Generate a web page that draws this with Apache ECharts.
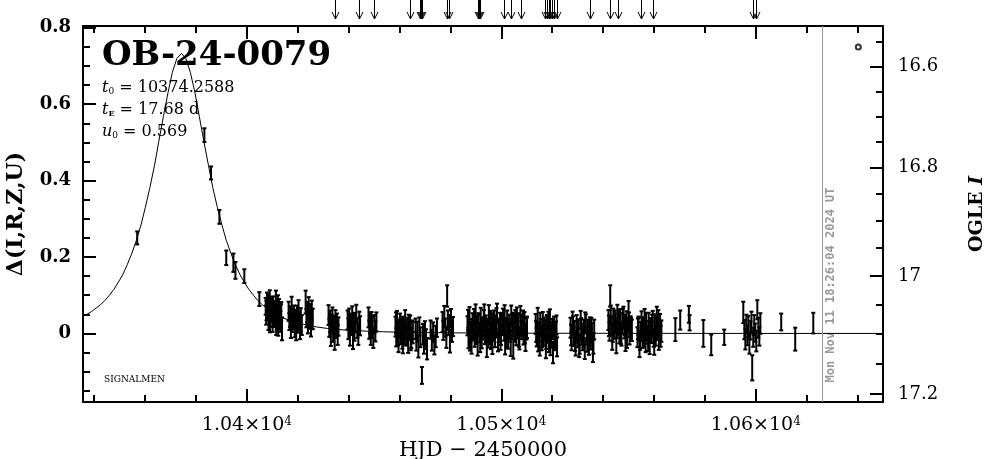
<!DOCTYPE html>
<html><head><meta charset="utf-8">
<script src="https://cdn.jsdelivr.net/npm/echarts@6/dist/echarts.min.js"></script>
<style>html,body{margin:0;padding:0;background:#fff}#c{width:986px;height:459px}</style>
</head><body><div id="c"></div>
<script>
// ---------- axis ticks ----------
const xMajor = [10400, 10500, 10600];
const xMinor = [10340,10360,10380,10420,10440,10460,10480,10520,10540,10560,10580,10620,10640];
const yMajor = [0, 0.2, 0.4, 0.6, 0.8];
const yMinor = [-0.15,-0.1,-0.05,0.05,0.1,0.15,0.25,0.3,0.35,0.45,0.5,0.55,0.65,0.7,0.75];
const magMajor = [16.6, 16.8, 17, 17.2];
const magMinor = [16.55,16.65,16.7,16.75,16.85,16.9,16.95,17.05,17.1,17.15];
const I_BASE = 17.1, F_SRC = 0.648;   // baseline OGLE I and source flux fraction
const X_MIN = 10335.6, X_MAX = 10650, Y_MIN = -0.1795, Y_MAX = 0.8047;
const NOW_HJD = 10626.27;

// ---------- model curve ----------
const modelT = [10335.6,10337.1,10338.9,10340.7,10342.4,10344.2,10346.0,10347.7,10349.5,10351.3,10353.0,10354.8,10356.6,10358.4,10360.1,10361.9,10363.7,10365.4,10367.2,10369.0,10370.7,10372.5,10374.3,10376.0,10377.8,10379.6,10381.3,10383.1,10384.9,10386.6,10388.4,10390.2,10391.9,10393.7,10395.5,10397.2,10399.0,10400.8,10402.6,10404.3,10406.1,10407.9,10409.6,10411.4,10414.0,10418.5,10422.9,10427.3,10431.7,10436.1,10445.0,10453.8,10462.7,10480.3,10498.0,10515.7,10551.1,10600.0,10650.0];
const modelD = [0.045,0.050,0.057,0.066,0.075,0.086,0.100,0.115,0.134,0.155,0.180,0.210,0.244,0.284,0.330,0.382,0.440,0.503,0.568,0.630,0.683,0.720,0.733,0.720,0.683,0.630,0.568,0.503,0.440,0.382,0.330,0.284,0.244,0.210,0.180,0.155,0.134,0.115,0.100,0.086,0.075,0.066,0.057,0.050,0.041,0.030,0.023,0.017,0.013,0.010,0.0065,0.0043,0.0029,0.0015,0.0009,0.0005,0.0002,0.0,0.0];

// ---------- observations [HJD, delta, err] ----------
const obsRise = [[10356.9,0.250,0.017],[10383.3,0.519,0.018],[10385.9,0.420,0.017],[10389.2,0.305,0.018],[10391.9,0.198,0.019],[10394.7,0.185,0.024],[10395.5,0.165,0.022],[10399.0,0.150,0.018],[10404.9,0.090,0.018]];
const obsC1 = [[10407.4,0.071,0.022],[10407.6,0.048,0.025],[10407.7,0.060,0.026],[10407.9,0.083,0.024],[10408.2,0.062,0.021],[10408.4,0.078,0.024],[10408.5,0.035,0.026],[10408.7,0.058,0.023],[10409.0,0.091,0.022],[10409.1,0.030,0.027],[10409.3,0.044,0.027],[10409.5,0.067,0.024],[10409.8,0.052,0.021],[10409.9,0.070,0.025],[10410.1,0.029,0.025],[10410.3,0.074,0.023],[10410.6,0.056,0.026],[10410.7,0.046,0.026],[10410.9,0.041,0.024],[10411.2,0.063,0.022],[10411.4,0.087,0.025],[10411.5,0.024,0.028],[10411.7,0.038,0.028],[10412.0,0.052,0.023],[10412.2,0.075,0.025],[10412.3,0.020,0.026],[10412.6,0.066,0.024],[10412.8,0.038,0.027],[10412.9,0.045,0.021],[10413.2,0.031,0.027],[10413.4,0.050,0.026],[10413.5,0.057,0.025],[10413.8,0.012,0.030]];
const obsC2 = [[10416.4,0.058,0.025],[10416.7,0.031,0.022],[10417.0,0.044,0.027],[10417.3,0.012,0.024],[10417.6,0.066,0.030],[10417.9,0.027,0.023],[10418.2,0.039,0.026],[10418.5,0.051,0.022],[10418.8,0.018,0.028],[10419.1,0.037,0.025],[10419.4,0.006,0.024],[10419.7,0.047,0.026],[10420.0,0.025,0.023],[10420.3,0.060,0.027],[10420.6,0.033,0.025],[10420.9,0.014,0.029],[10421.2,0.042,0.024],[10421.6,0.022,0.026]];
const obsC3 = [[10423.1,0.082,0.030],[10423.4,0.040,0.024],[10423.7,0.056,0.026],[10424.0,0.025,0.025],[10424.3,0.068,0.027],[10424.6,0.035,0.023],[10424.9,0.049,0.028],[10425.2,0.018,0.026],[10425.5,0.061,0.025],[10425.9,0.038,0.027]];
const obsC4 = [[10432.1,0.048,0.026],[10432.4,0.015,0.024],[10432.7,0.032,0.028],[10433.0,-0.008,0.025],[10433.3,0.027,0.023],[10433.6,0.041,0.027],[10433.9,0.004,0.026],[10434.2,0.022,0.024],[10434.5,-0.015,0.028],[10434.8,0.036,0.025],[10435.1,0.011,0.023],[10435.4,0.025,0.027],[10435.7,-0.004,0.026],[10436.0,0.018,0.024]];
const obsC5 = [[10439.6,0.035,0.025],[10439.9,0.012,0.027],[10440.2,0.041,0.024],[10440.5,-0.006,0.026],[10440.8,0.024,0.028],[10441.1,0.019,0.023],[10441.4,0.046,0.025],[10441.7,-0.012,0.029],[10442.0,0.030,0.024],[10442.3,0.008,0.027],[10442.6,0.028,0.025],[10443.0,0.052,0.023],[10443.4,0.014,0.026],[10443.8,-0.002,0.028],[10444.2,0.033,0.024],[10444.5,0.020,0.025]];
const obsC6 = [[10447.8,0.042,0.026],[10448.1,0.010,0.024],[10448.4,0.027,0.027],[10448.7,-0.005,0.025],[10449.0,0.033,0.023],[10449.3,0.016,0.028],[10449.7,-0.012,0.026],[10450.1,0.024,0.024],[10450.5,0.006,0.027],[10450.9,0.030,0.025]];
const obsC7 = [[10458.4,0.018,0.026],[10458.6,0.028,0.027],[10458.7,-0.010,0.024],[10459.0,0.032,0.027],[10459.3,0.004,0.025],[10459.5,-0.006,0.025],[10459.6,-0.021,0.028],[10459.9,0.012,0.023],[10460.2,0.026,0.026],[10460.4,0.014,0.026],[10460.5,-0.004,0.024],[10460.8,0.008,0.027],[10461.1,-0.015,0.025],[10461.3,-0.024,0.028],[10461.4,0.021,0.023],[10461.8,0.000,0.028],[10462.0,0.010,0.025],[10462.2,0.035,0.026],[10462.6,-0.008,0.024],[10462.9,-0.002,0.027],[10463.0,0.014,0.027],[10463.4,-0.026,0.025],[10463.6,0.024,0.025],[10463.8,0.006,0.023],[10464.2,0.019,0.028],[10464.4,-0.018,0.026],[10464.6,-0.012,0.026],[10465.0,0.010,0.024],[10465.2,0.002,0.028]];
const obsC8 = [[10466.3,0.012,0.027],[10466.6,-0.020,0.025],[10467.0,0.005,0.026],[10467.4,-0.035,0.028],[10467.8,0.018,0.024],[10468.2,-0.010,0.026],[10468.8,-0.110,0.022],[10469.2,-0.002,0.027],[10469.6,-0.028,0.025],[10470.0,0.008,0.024],[10470.4,-0.015,0.026],[10470.8,-0.040,0.028]];
const obsC9 = [[10472.2,0.010,0.024],[10472.7,-0.018,0.027],[10473.2,0.003,0.026],[10473.7,-0.030,0.025],[10474.2,-0.008,0.028],[10474.7,0.015,0.024]];
const obsC10 = [[10476.9,0.030,0.026],[10477.2,0.008,0.025],[10477.6,0.045,0.027],[10478.0,0.015,0.024],[10478.4,-0.010,0.028],[10478.7,0.098,0.028],[10479.0,0.035,0.025],[10479.4,0.022,0.026],[10479.8,-0.020,0.030],[10480.2,0.040,0.024],[10480.6,0.005,0.027],[10481.0,0.018,0.025]];
const obsC11 = [[10486.7,0.020,0.025],[10486.9,0.035,0.027],[10487.1,-0.012,0.027],[10487.5,0.045,0.024],[10487.7,-0.020,0.025],[10487.9,0.005,0.026],[10488.3,-0.025,0.028],[10488.5,0.010,0.028],[10488.7,0.030,0.023],[10489.1,0.012,0.025],[10489.3,0.040,0.024],[10489.5,-0.008,0.027],[10489.9,0.052,0.024],[10490.1,-0.002,0.026],[10490.3,0.018,0.026],[10490.7,-0.030,0.028],[10490.9,0.028,0.025],[10491.1,0.025,0.023],[10491.5,0.002,0.025],[10491.7,-0.022,0.027],[10491.9,0.040,0.027],[10492.3,-0.015,0.024],[10492.5,0.018,0.024],[10492.7,0.010,0.026],[10493.1,0.033,0.028],[10493.3,0.050,0.026],[10493.5,-0.005,0.023],[10493.9,0.022,0.025],[10494.1,0.006,0.028],[10494.3,-0.035,0.027],[10494.7,0.015,0.024],[10494.9,-0.012,0.025],[10495.1,0.048,0.026],[10495.5,0.000,0.028],[10495.7,0.032,0.027],[10495.9,-0.018,0.023],[10496.3,0.028,0.025],[10496.5,-0.030,0.024],[10496.7,0.008,0.027],[10497.1,0.036,0.024],[10497.3,0.014,0.026],[10497.5,-0.010,0.026],[10497.9,0.019,0.028],[10498.1,0.038,0.028],[10498.3,0.055,0.023],[10498.7,-0.022,0.025],[10498.9,0.002,0.025],[10499.1,0.012,0.027],[10499.5,0.030,0.024],[10499.7,-0.016,0.027],[10499.9,-0.004,0.026],[10500.3,0.024,0.028],[10500.5,0.020,0.024],[10500.7,0.042,0.023],[10501.1,0.006,0.025],[10501.3,0.048,0.026],[10501.5,-0.028,0.027],[10501.9,0.016,0.024],[10502.1,-0.008,0.028],[10502.3,0.034,0.026],[10502.7,-0.012,0.028],[10502.9,0.012,0.025],[10503.1,0.026,0.023],[10503.5,0.003,0.025],[10503.7,-0.032,0.027],[10503.9,0.046,0.027],[10504.3,0.010,0.024],[10504.5,0.030,0.024],[10504.7,-0.040,0.026],[10505.1,0.021,0.028],[10505.3,0.004,0.026],[10505.5,0.038,0.023],[10505.9,-0.006,0.025],[10506.1,0.040,0.028],[10506.3,0.014,0.027],[10506.7,0.029,0.024],[10506.9,-0.010,0.025],[10507.1,-0.016,0.026],[10507.5,0.044,0.028],[10507.7,0.022,0.027],[10507.9,0.008,0.023],[10508.3,0.018,0.025],[10508.5,0.036,0.024],[10508.7,-0.002,0.027],[10509.1,0.032,0.024],[10509.3,0.000,0.026],[10509.5,-0.020,0.026],[10509.9,0.012,0.028],[10510.1,0.016,0.028]];
const obsC12 = [[10513.5,0.025,0.026],[10513.7,0.005,0.027],[10513.9,-0.010,0.024],[10514.3,0.040,0.027],[10514.5,-0.022,0.025],[10514.7,0.005,0.025],[10515.1,-0.030,0.028],[10515.3,0.028,0.026],[10515.5,0.015,0.023],[10515.9,-0.018,0.026],[10516.1,-0.008,0.028],[10516.3,0.032,0.024],[10516.7,-0.005,0.027],[10516.9,0.018,0.024],[10517.1,0.010,0.025],[10517.5,-0.042,0.023],[10517.7,-0.015,0.026],[10517.9,0.020,0.028],[10518.3,0.002,0.026],[10518.5,0.030,0.027],[10518.7,-0.025,0.024],[10519.1,0.036,0.027],[10519.3,-0.032,0.025],[10519.5,-0.012,0.025],[10519.9,0.008,0.023],[10520.1,0.012,0.026],[10520.3,-0.050,0.028],[10520.7,0.018,0.026],[10520.9,-0.004,0.028],[10521.1,-0.020,0.024],[10521.5,0.004,0.027],[10521.7,0.022,0.025],[10521.9,-0.035,0.025]];
const obsC13 = [[10527.2,0.015,0.026],[10527.4,-0.004,0.027],[10527.6,-0.020,0.024],[10528.0,0.030,0.027],[10528.2,0.020,0.025],[10528.4,-0.008,0.025],[10528.8,0.005,0.028],[10529.0,-0.020,0.026],[10529.2,-0.035,0.023],[10529.6,0.022,0.026],[10529.8,0.004,0.028],[10530.0,-0.012,0.024],[10530.4,0.010,0.027],[10530.6,-0.038,0.024],[10530.8,-0.028,0.025],[10531.2,0.036,0.023],[10531.4,0.014,0.026],[10531.6,-0.002,0.028],[10532.0,-0.018,0.026],[10532.2,-0.010,0.027],[10532.4,0.012,0.024],[10532.8,-0.040,0.027],[10533.0,0.030,0.025],[10533.2,0.025,0.025],[10533.6,-0.006,0.023],[10533.8,-0.022,0.026],[10534.0,0.008,0.028],[10534.4,-0.030,0.026],[10534.6,-0.002,0.028],[10534.8,0.018,0.024],[10535.2,-0.015,0.027],[10535.4,0.016,0.025],[10535.6,0.002,0.025],[10536.0,-0.045,0.030],[10536.2,-0.026,0.027],[10536.5,0.010,0.026]];
const obsC14 = [[10542.1,0.035,0.026],[10542.3,0.020,0.027],[10542.5,0.005,0.024],[10542.8,0.098,0.028],[10543.0,0.048,0.025],[10543.2,0.020,0.025],[10543.6,-0.015,0.028],[10543.8,0.004,0.026],[10544.0,0.042,0.023],[10544.4,0.012,0.026],[10544.6,0.032,0.028],[10544.8,0.028,0.024],[10545.2,-0.025,0.027],[10545.4,0.012,0.024],[10545.6,0.050,0.025],[10546.0,0.018,0.023],[10546.2,0.036,0.026],[10546.4,0.002,0.028],[10546.8,0.038,0.026],[10547.0,0.000,0.027],[10547.2,-0.008,0.024],[10547.6,0.026,0.027],[10547.8,0.040,0.025],[10548.0,0.045,0.025],[10548.4,0.010,0.023],[10548.6,0.022,0.026],[10548.8,-0.018,0.028],[10549.2,0.032,0.026],[10549.4,-0.010,0.028],[10549.6,0.015,0.024],[10550.0,0.058,0.027],[10550.2,0.030,0.025],[10550.4,-0.004,0.025],[10550.8,0.022,0.023],[10551.0,0.014,0.027],[10551.3,0.008,0.028]];
const obsC15 = [[10553.5,-0.010,0.026],[10553.7,0.012,0.027],[10553.9,0.020,0.024],[10554.3,-0.035,0.027],[10554.5,-0.018,0.025],[10554.7,0.005,0.025],[10555.1,0.030,0.028],[10555.3,0.016,0.026],[10555.5,-0.015,0.023],[10555.9,0.012,0.026],[10556.1,-0.006,0.028],[10556.3,0.040,0.024],[10556.7,-0.022,0.027],[10556.9,0.030,0.024],[10557.1,0.008,0.025],[10557.5,-0.004,0.023],[10557.7,-0.020,0.026],[10557.9,0.026,0.028],[10558.3,-0.028,0.026],[10558.5,0.004,0.027],[10558.7,0.016,0.024],[10559.1,0.002,0.027],[10559.3,0.024,0.025],[10559.5,0.034,0.025],[10559.9,-0.012,0.023],[10560.1,-0.030,0.026],[10560.3,0.022,0.028],[10560.7,-0.006,0.026],[10560.9,0.014,0.028],[10561.1,0.046,0.024],[10561.5,0.010,0.027],[10561.7,0.036,0.025],[10561.9,-0.018,0.025],[10562.4,0.028,0.023],[10562.6,-0.008,0.027],[10562.9,0.006,0.028]];
const obsC16 = [[10595.1,0.055,0.028],[10595.5,0.010,0.025],[10595.9,-0.015,0.027],[10596.3,0.025,0.024],[10596.7,-0.005,0.026],[10597.1,0.018,0.028],[10597.5,-0.028,0.025],[10597.9,0.008,0.024],[10598.3,0.030,0.027],[10598.6,-0.090,0.033],[10599.0,-0.010,0.025],[10599.4,0.022,0.026],[10599.8,0.002,0.024],[10600.2,-0.020,0.027],[10600.6,0.062,0.025],[10601.0,0.015,0.026],[10601.4,-0.008,0.024],[10601.8,0.026,0.027]];
const obsLate = [[10568.4,0.010,0.030],[10570.3,0.035,0.025],[10573.7,0.050,0.022],[10574.0,0.028,0.020],[10579.4,0.000,0.035],[10582.5,-0.030,0.027],[10587.6,-0.010,0.020],[10610.0,0.030,0.022],[10615.5,-0.015,0.030],[10622.6,0.027,0.027]];

// ---------- alert arrows (HJD) and legend symbol ----------
const arrowT = [10434.8,10443.9,10450.1,10464.0,10467.9,10468.4,10468.8,10478.7,10479.6,10490.8,10491.4,10491.7,10500.9,10503.8,10507.7,10517.3,10518.0,10518.6,10519.3,10519.9,10520.8,10521.9,10534.7,10542.6,10545.7,10554.9,10559.6,10599.1,10600.2];
const legendMark = [[10640.3, 0.75]];

const obs = [].concat(obsRise, obsC1, obsC2, obsC3, obsC4, obsC5, obsC6, obsC7, obsC8, obsC9, obsC10, obsC11, obsC12, obsC13, obsC14, obsC15, obsC16, obsLate);

function magToDelta(m) { return 2.5 * Math.log10((Math.pow(10, 0.4 * (I_BASE - m)) - 1 + F_SRC) / F_SRC); }

const SERIF = '"DejaVu Serif", serif';
const BLACK = '#000';
const lineSt = { color: BLACK, width: 2 };

function xAxisDef(pos, ticks, len, showLine, withLabels) {
  const a = {
    type: 'value', position: pos, min: X_MIN, max: X_MAX,
    axisLine: { show: showLine, onZero: false, lineStyle: lineSt },
    axisTick: { show: true, inside: true, length: len, lineStyle: lineSt, customValues: ticks },
    axisLabel: { show: false },
    splitLine: { show: false }
  };
  if (withLabels) {
    a.axisLabel = {
      show: true, customValues: ticks, margin: 14, color: BLACK, fontFamily: SERIF, fontSize: 19,
      formatter: v => (v / 1e4).toFixed(2) + '×10{sup|4}',
      rich: { sup: { fontSize: 12, fontFamily: SERIF, color: BLACK, verticalAlign: 'top', lineHeight: 12 } }
    };
    a.name = 'HJD − 2450000';
    a.nameLocation = 'middle';
    a.nameGap = 36;
    a.nameTextStyle = { color: BLACK, fontFamily: SERIF, fontSize: 21, verticalAlign: 'top' };
  }
  return a;
}
function yAxisDef(pos, ticks, len, showLine) {
  return {
    type: 'value', position: pos, min: Y_MIN, max: Y_MAX,
    axisLine: { show: showLine, onZero: false, lineStyle: lineSt },
    axisTick: { show: true, inside: true, length: len, lineStyle: lineSt, customValues: ticks },
    axisLabel: { show: false },
    splitLine: { show: false }
  };
}

const yLeft = yAxisDef('left', yMajor, 13, true);
yLeft.axisLabel = { show: true, customValues: yMajor, margin: 12, color: BLACK, fontFamily: SERIF, fontWeight: 'bold', fontSize: 18,
  formatter: v => (Math.abs(v) < 1e-9 ? '0' : v.toFixed(1)) };
yLeft.name = 'Δ(I,R,Z,U)';
yLeft.nameLocation = 'middle';
yLeft.nameRotate = 90;
yLeft.nameGap = 56;
yLeft.nameTextStyle = { color: BLACK, fontFamily: SERIF, fontWeight: 'bold', fontSize: 22 };

const magMajorD = magMajor.map(magToDelta);
const yRight = yAxisDef('right', magMajorD, 13, true);
yRight.axisLabel = { show: true, customValues: magMajorD, margin: 15, color: BLACK, fontFamily: SERIF, fontSize: 18,
  formatter: v => { let best = 0; magMajorD.forEach((d, i) => { if (Math.abs(d - v) < Math.abs(magMajorD[best] - v)) best = i; }); return String(magMajor[best]); } };
yRight.name = 'OGLE {i|I}';
yRight.nameLocation = 'middle';
yRight.nameRotate = 90;
yRight.nameGap = 85;
yRight.nameTextStyle = { color: BLACK, fontFamily: SERIF, fontWeight: 'bold', fontSize: 19,
  rich: { i: { fontFamily: SERIF, fontWeight: 'bold', fontStyle: 'italic', fontSize: 19, color: BLACK } } };

const chart = echarts.init(document.getElementById('c'), null, { renderer: 'canvas' });
chart.setOption({
  backgroundColor: '#fff',
  animation: false,
  grid: { left: 83, right: 103, top: 26, bottom: 57, containLabel: false, outerBoundsMode: 'none' },
  xAxis: [
    xAxisDef('bottom', xMajor, 13, true, true),
    xAxisDef('bottom', xMinor, 7, false, false),
    xAxisDef('top', xMajor, 13, true, false),
    xAxisDef('top', xMinor, 7, false, false)
  ],
  yAxis: [
    yLeft,
    yAxisDef('left', yMinor, 7, false),
    yRight,
    yAxisDef('right', magMinor.map(magToDelta), 7, false)
  ],
  series: [
    {
      type: 'line', xAxisIndex: 0, yAxisIndex: 0, z: 3, silent: true,
      data: modelT.map((t, i) => [t, modelD[i]]),
      smooth: false, showSymbol: false, symbol: 'none',
      lineStyle: { color: BLACK, width: 1 },
      markLine: { silent: true, symbol: 'none', label: { show: false },
        lineStyle: { color: '#9a9a9a', width: 1, type: 'solid' }, data: [{ xAxis: NOW_HJD }] }
    },
    {
      type: 'custom', xAxisIndex: 0, yAxisIndex: 0, z: 4, silent: true,
      dimensions: ['t', 'd', 'e'], encode: { x: 't', y: 'd' },
      data: obs,
      renderItem: (params, api) => {
        const t = api.value(0), d = api.value(1), e = api.value(2);
        const a = api.coord([t, d + e]), b = api.coord([t, d - e]);
        const st = { stroke: BLACK, lineWidth: 2 };
        return { type: 'group', children: [
          { type: 'line', shape: { x1: a[0], y1: a[1], x2: b[0], y2: b[1] }, style: st },
          { type: 'line', shape: { x1: a[0] - 2, y1: a[1], x2: a[0] + 2, y2: a[1] }, style: st },
          { type: 'line', shape: { x1: b[0] - 2, y1: b[1], x2: b[0] + 2, y2: b[1] }, style: st }
        ] };
      }
    },
    {
      type: 'custom', xAxisIndex: 0, yAxisIndex: 0, z: 4, silent: true, clip: false,
      data: arrowT.map(t => [t, 0]), encode: { x: 0, y: 1 },
      renderItem: (params, api) => {
        const x = Math.round(api.coord([api.value(0), 0])[0]) + 0.5;
        const tip = params.coordSys.y - 7;
        const st = { stroke: BLACK, lineWidth: 1, fill: null };
        return { type: 'group', children: [
          { type: 'line', shape: { x1: x, y1: 0, x2: x, y2: tip }, style: st },
          { type: 'polyline', shape: { points: [[x - 3.5, tip - 7], [x, tip], [x + 3.5, tip - 7]] }, style: st }
        ] };
      }
    },
    {
      type: 'scatter', xAxisIndex: 0, yAxisIndex: 0, silent: true, clip: false,
      data: legendMark, symbol: 'emptyCircle', symbolSize: 5,
      itemStyle: { color: BLACK, borderColor: BLACK, borderWidth: 1.6 }
    }
  ],
  graphic: [
    { type: 'text', left: 102, top: 39, silent: true,
      style: { text: 'OB-24-0079', font: 'bold 34px "DejaVu Serif"', fill: BLACK } },
    { type: 'text', left: 102, top: 80, silent: true,
      style: { text: '{i|t}{s|0} = 10374.2588', font: '16px "DejaVu Serif"', fill: BLACK,
        rich: { i: { font: 'italic 16px "DejaVu Serif"', fill: BLACK }, s: { font: '9px "DejaVu Serif"', verticalAlign: 'bottom', lineHeight: 9 } } } },
    { type: 'text', left: 102, top: 102, silent: true,
      style: { text: '{i|t}{s|E} = 17.68 d', font: '16px "DejaVu Serif"', fill: BLACK,
        rich: { i: { font: 'italic 16px "DejaVu Serif"', fill: BLACK }, s: { font: 'bold 8px "DejaVu Serif"', verticalAlign: 'bottom', lineHeight: 9 } } } },
    { type: 'text', left: 102, top: 124, silent: true,
      style: { text: '{i|u}{s|0} = 0.569', font: '16px "DejaVu Serif"', fill: BLACK,
        rich: { i: { font: 'italic 16px "DejaVu Serif"', fill: BLACK }, s: { font: '9px "DejaVu Serif"', verticalAlign: 'bottom', lineHeight: 9 } } } },
    { type: 'text', left: 104, top: 375, silent: true,
      style: { text: 'SIGNALMEN', font: '9px "DejaVu Serif"', fill: BLACK } },
    { type: 'text', x: 831, y: 285, rotation: Math.PI / 2, silent: true,
      style: { text: 'Mon Nov 11 18:26:04 2024 UT', font: 'bold 12px "DejaVu Sans Mono"', fill: '#9a9a9a', align: 'center', verticalAlign: 'middle' } }
  ]
});
</script></body></html>
